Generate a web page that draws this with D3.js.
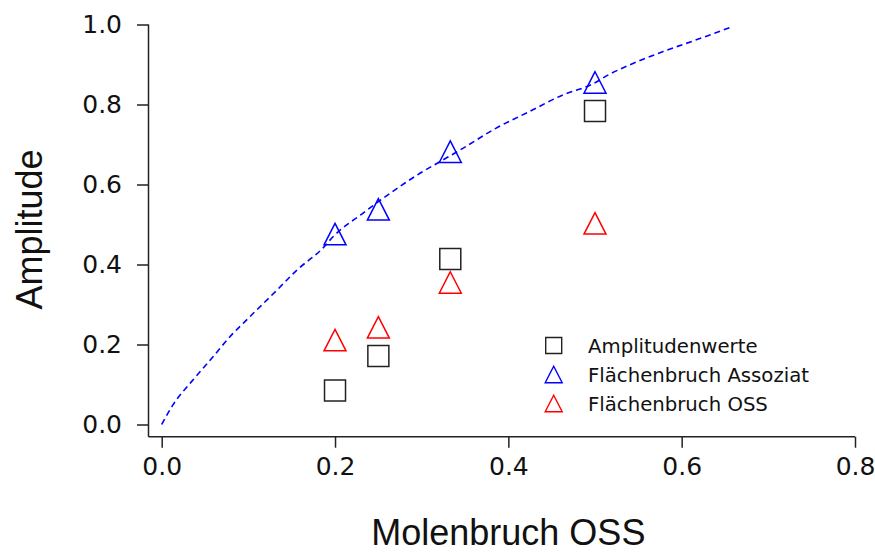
<!DOCTYPE html>
<html>
<head>
<meta charset="utf-8">
<script src="https://cdn.jsdelivr.net/npm/d3@7"></script>
<style>
  html, body { margin: 0; padding: 0; background: #fff; }
  svg { display: block; }
</style>
</head>
<body>
<svg id="chart" width="875" height="552"></svg>
<script>
// Mole fraction of OSS for each measured sample
const molenbruch = [0.2, 0.25, 0.333, 0.5];
// Measured amplitude values
const amplitudenwerte = [0.085, 0.171, 0.414, 0.784];
// Area fraction of the associate
const flaechenbruchAssoziat = [0.476, 0.538, 0.682, 0.855];
// Area fraction of OSS
const flaechenbruchOSS = [0.211, 0.243, 0.355, 0.503];

// Fitted curve for the associate fraction
const fitX = [0, 0.013, 0.036, 0.056, 0.079, 0.102, 0.133, 0.156, 0.186, 0.198,
              0.232, 0.261, 0.298, 0.321, 0.348, 0.386, 0.424, 0.463, 0.497,
              0.517, 0.540, 0.578, 0.616, 0.659];
const fitY = [0, 0.049, 0.111, 0.161, 0.220, 0.270, 0.336, 0.386, 0.441, 0.470,
              0.528, 0.574, 0.628, 0.657, 0.691, 0.741, 0.782, 0.824, 0.851,
              0.876, 0.899, 0.932, 0.961, 0.995];

const xTicks = [0, 0.2, 0.4, 0.6, 0.8];
const yTicks = [0, 0.2, 0.4, 0.6, 0.8, 1.0];

const legendLabels = ["Amplitudenwerte", "Flächenbruch Assoziat", "Flächenbruch OSS"];
const legendShapes = ["square", "triangle", "triangle"];
const legendColors = ["#222", "#0000ff", "#ff0000"];

const svg = d3.select("#chart");
const tickFont = "'DejaVu Sans', sans-serif";
const titleFont = "'Liberation Sans', Arial, sans-serif";

const x = d3.scaleLinear().domain([0, 0.8]).range([161.7, 855]);
const y = d3.scaleLinear().domain([0, 1]).range([424.5, 24.5]);

const xAxisY = 436.7;
const yAxisX = 148.5;

// X axis (detached below the plotting area)
const gx = svg.append("g")
  .attr("transform", `translate(0,${xAxisY})`)
  .call(d3.axisBottom(x).tickValues(xTicks).tickFormat(d3.format(".1f"))
    .tickSizeOuter(0).tickSizeInner(11).tickPadding(8));
gx.select(".domain").attr("d", `M${yAxisX},0H${x(0.8)}`);

// Y axis (detached left of the plotting area)
const gy = svg.append("g")
  .attr("transform", `translate(${yAxisX},0)`)
  .call(d3.axisLeft(y).tickValues(yTicks).tickFormat(d3.format(".1f"))
    .tickSizeOuter(0).tickSizeInner(11.5).tickPadding(15));
gy.select(".domain").attr("d", `M0,${y(1)}V${xAxisY}`);

svg.selectAll(".domain, .tick line")
  .attr("stroke", "#222").attr("stroke-width", 1.5);
svg.selectAll(".tick text")
  .attr("font-family", tickFont).attr("font-size", 25).attr("fill", "#111");
gx.selectAll(".tick text").attr("dy", "0.78em");

// Axis titles
svg.append("text")
  .attr("x", (x(0) + x(0.8)) / 2).attr("y", 545)
  .attr("text-anchor", "middle")
  .attr("font-family", titleFont).attr("font-size", 36).attr("fill", "#111")
  .text("Molenbruch OSS");
svg.append("text")
  .attr("transform", `translate(42,${(y(0) + y(1)) / 2 + 5}) rotate(-90)`)
  .attr("text-anchor", "middle")
  .attr("font-family", titleFont).attr("font-size", 36).attr("fill", "#111")
  .text("Amplitude");

// Fitted curve
const line = d3.line().x((d, i) => x(fitX[i])).y(d => y(d)).curve(d3.curveMonotoneX);
svg.append("path")
  .datum(fitY)
  .attr("d", line)
  .attr("fill", "none")
  .attr("stroke", "#0000ff")
  .attr("stroke-width", 1.6)
  .attr("stroke-dasharray", "6,4");

// Marker paths
function squarePath(cx, cy, s) {
  const h = s / 2;
  return `M${cx - h},${cy - h}H${cx + h}V${cy + h}H${cx - h}Z`;
}
function trianglePath(cx, cy, w, h) {
  return `M${cx},${cy - h / 2}L${cx + w / 2},${cy + h / 2}L${cx - w / 2},${cy + h / 2}Z`;
}

// Data markers
svg.append("g").selectAll("path")
  .data(amplitudenwerte)
  .join("path")
  .attr("d", (d, i) => squarePath(x(molenbruch[i]), y(d), 21))
  .attr("fill", "none").attr("stroke", "#222").attr("stroke-width", 1.5);

svg.append("g").selectAll("path")
  .data(flaechenbruchAssoziat)
  .join("path")
  .attr("d", (d, i) => trianglePath(x(molenbruch[i]), y(d), 22, 21.5))
  .attr("fill", "none").attr("stroke", "#0000ff").attr("stroke-width", 1.5);

svg.append("g").selectAll("path")
  .data(flaechenbruchOSS)
  .join("path")
  .attr("d", (d, i) => trianglePath(x(molenbruch[i]), y(d), 22, 21.5))
  .attr("fill", "none").attr("stroke", "#ff0000").attr("stroke-width", 1.5);

// Legend
const legend = svg.append("g");
legendLabels.forEach((label, i) => {
  const cy = 345.5 + i * 29;
  const cx = 553.7;
  legend.append("path")
    .attr("d", legendShapes[i] === "square" ? squarePath(cx, cy, 16) : trianglePath(cx, cy, 17, 16.5))
    .attr("fill", "none").attr("stroke", legendColors[i]).attr("stroke-width", 1.4);
  legend.append("text")
    .attr("x", 588).attr("y", cy + 7.5)
    .attr("font-family", tickFont).attr("font-size", 19.7).attr("fill", "#111")
    .text(label);
});
</script>
</body>
</html>
